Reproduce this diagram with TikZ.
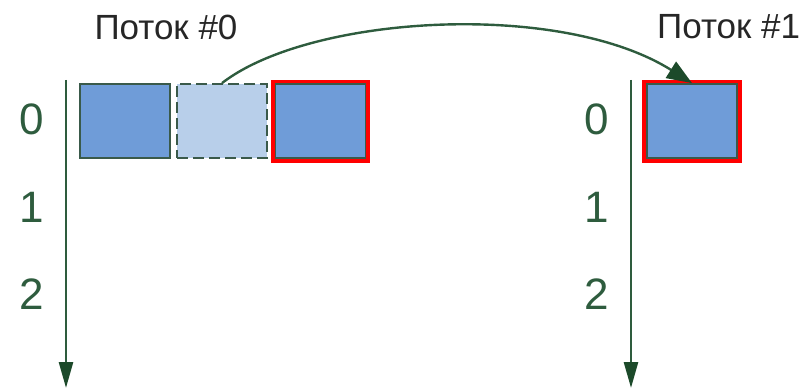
\documentclass[tikz,border=0pt]{standalone}
\usepackage{fontspec}
\setmainfont{Liberation Sans}
\usetikzlibrary{arrows.meta}
\definecolor{axisgreen}{HTML}{2E5C3E}
\definecolor{tipgreen}{HTML}{1C4A2A}
\definecolor{boxblue}{HTML}{6F9CD8}
\definecolor{boxlight}{HTML}{B8CFEA}
\definecolor{boxedge}{HTML}{3A5A4A}
\begin{document}
\begin{tikzpicture}[x=1pt,y=-1pt,
  axis/.style={draw=axisgreen,line width=2.6pt,-{Triangle[width=14pt,length=26pt,fill=tipgreen,color=tipgreen]}},
  idx/.style={text=axisgreen,font=\fontsize{44}{44}\selectfont,inner sep=0pt},
  head/.style={text=black!85,font=\fontsize{35}{35}\selectfont,inner sep=0pt},
  blk/.style={draw=boxedge,line width=1.8pt,fill=boxblue,minimum width=90pt,minimum height=74pt,inner sep=0pt},
  ghost/.style={blk,fill=boxlight,dash pattern=on 11pt off 5pt},
  link/.style={draw=axisgreen,line width=2.4pt,-{Triangle[width=19pt,length=25pt,fill=tipgreen,color=tipgreen]}}
]
\useasboundingbox (0,0) rectangle (809,390);
% headers
\node[head] (h0) at (166,27) {Поток \#0};
\node[head,anchor=west] (h1) at (657,27) {Поток \#1};
% axes
\coordinate (a0s) at (66,80);
\coordinate (a0e) at (66,388);
\coordinate (a1s) at (631,80);
\coordinate (a1e) at (631,388);
\draw[axis] (a0s) -- (a0e);
\draw[axis] (a1s) -- (a1e);
% indices
\node[idx] (l0) at (32,119) {0};
\node[idx] (l1) at (32,207) {1};
\node[idx] (l2) at (32,294) {2};
\node[idx] (r0) at (597,119) {0};
\node[idx] (r1) at (597,207) {1};
\node[idx] (r2) at (597,294) {2};
% blocks
\node[blk] (b1) at (125,121) {};
\node[ghost] (b2) at (222,121) {};
\draw[red,line width=4.5pt] (273,82) rectangle (368,161);
\node[blk] (b3) at (320.5,121) {};
\draw[red,line width=4.5pt] (644,82) rectangle (740,161);
\node[blk] (c1) at (692,121) {};
% transfer arrow
\draw[link] (b2.north) .. controls (310,15) and (560,0) .. (c1.north);
\end{tikzpicture}
\end{document}
